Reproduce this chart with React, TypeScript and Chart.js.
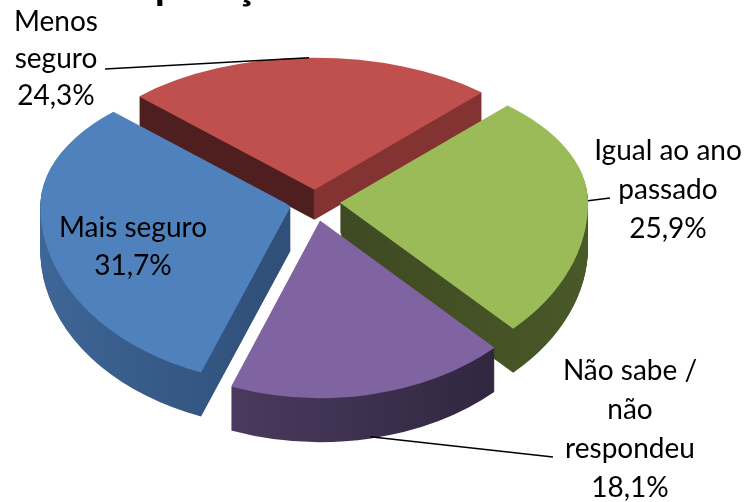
import { useEffect, useRef } from "react";
import { Chart, registerables } from "chart.js";

Chart.register(...registerables);

// ---- data ----
const categories = ["Menos seguro", "Igual ao ano passado", "Não sabe / não respondeu", "Mais seguro"];
const percentages = [24.3, 25.9, 18.1, 31.7];
const valueLabels = ["24,3%", "25,9%", "18,1%", "31,7%"];
const nameLines = [["Menos", "seguro"], ["Igual ao ano", "passado"], ["Não sabe /", "não", "respondeu"], ["Mais seguro"]];
const titleText = "Comparação";

// ---- styles ----
const topColors = ["#C0504D", "#9BBB59", "#8064A2", "#4F81BD"];
// side shading: [left colour, right colour, sharp split at the slice vertex?]
const sideShades: [string, string, boolean][] = [
  ["#4F1E1E", "#843333", true],
  ["#3F4B22", "#4A5A28", false],
  ["#4A3A5E", "#30263F", false],
  ["#3F6899", "#30507A", false],
];
const FONT = '"Lato", "Open Sans", sans-serif';
const LABEL_SIZE = 28;

const TILT_BACK = 0.532;
const TILT_FRONT = 0.71;
const DEPTH_BACK = 30;
const DEPTH_FRONT = 44;

// label layout: centre x, first baseline, line gap, leader end, leader from bottom of side
const labelLayout = [
  { x: 56, y: 31, gap: 37, leader: [105, 69], bottom: false },
  { x: 668, y: 160, gap: 39, leader: [610, 198], bottom: false },
  { x: 630, y: 380, gap: 39, leader: [553, 457], bottom: true },
  { x: 133, y: 237, gap: 38, leader: null as null | number[], bottom: false },
];

function withHalf(ctx: CanvasRenderingContext2D, cy: number, upper: boolean, shift: number, w: number, h: number, fn: () => void) {
  ctx.save();
  ctx.beginPath();
  if (upper) ctx.rect(0, -20, w, cy + shift + 21);
  else ctx.rect(0, cy + shift, w, h);
  ctx.clip();
  ctx.translate(0, cy + shift);
  ctx.scale(1, upper ? TILT_BACK : TILT_FRONT);
  ctx.translate(0, -cy);
  fn();
  ctx.restore();
}

function drawArcWith(ctx: CanvasRenderingContext2D, el: any, color: any) {
  const orig = el.options;
  el.options = Object.assign({}, orig, { backgroundColor: color, borderColor: color, borderWidth: 0 });
  el.draw(ctx);
  el.options = orig;
}

function sideFill(ctx: CanvasRenderingContext2D, el: any, i: number) {
  const [c1, c2, sharp] = sideShades[i];
  const mid = (el.startAngle + el.endAngle) / 2;
  const off = (el.options.offset || 0) / 4;
  const vx = el.x + Math.cos(mid) * off;
  let x1: number, x2: number;
  if (sharp) {
    x1 = vx - 1;
    x2 = vx + 1;
  } else {
    const r = el.outerRadius;
    const xs = [vx];
    for (let a = el.startAngle; a <= el.endAngle; a += 0.05) xs.push(vx + Math.cos(a) * r);
    xs.push(vx + Math.cos(el.endAngle) * r);
    x1 = Math.min(...xs);
    x2 = Math.max(...xs);
  }
  const g = ctx.createLinearGradient(x1, 0, x2, 0);
  g.addColorStop(0, c1);
  g.addColorStop(1, c2);
  return g;
}

const pseudo3d = {
  id: "pseudo3d",
  beforeDatasetsDraw(chart: any) {
    const meta = chart.getDatasetMeta(0);
    const arcs = meta.data as any[];
    if (!arcs.length) return;
    const ctx = chart.ctx as CanvasRenderingContext2D;
    const cy = arcs[0].y;
    const w = chart.width;
    const h = chart.height;
    const fills = arcs.map((el, i) => sideFill(ctx, el, i));
    for (let s = DEPTH_FRONT; s >= 1; s--) {
      arcs.forEach((el, i) => {
        if (s <= DEPTH_BACK) withHalf(ctx, cy, true, s, w, h, () => drawArcWith(ctx, el, fills[i]));
        withHalf(ctx, cy, false, s, w, h, () => drawArcWith(ctx, el, fills[i]));
      });
    }
    arcs.forEach((el) => {
      withHalf(ctx, cy, true, 0, w, h, () => el.draw(ctx));
      withHalf(ctx, cy, false, 0, w, h, () => el.draw(ctx));
    });
    return false;
  },
  afterDraw(chart: any) {
    const meta = chart.getDatasetMeta(0);
    const arcs = meta.data as any[];
    if (!arcs.length) return;
    const ctx = chart.ctx as CanvasRenderingContext2D;
    const cx = arcs[0].x;
    const cy = arcs[0].y;

    // leader lines
    ctx.save();
    ctx.strokeStyle = "#000";
    ctx.lineWidth = 1.6;
    arcs.forEach((el, i) => {
      const lay = labelLayout[i];
      if (!lay.leader) return;
      const mid = (el.startAngle + el.endAngle) / 2;
      const off = (el.options.offset || 0) / 4;
      const px = cx + Math.cos(mid) * (off + el.outerRadius);
      const pyc = cy + Math.sin(mid) * (off + el.outerRadius);
      let py = cy + (pyc - cy) * (pyc < cy ? TILT_BACK : TILT_FRONT);
      if (lay.bottom) py += pyc < cy ? DEPTH_BACK : DEPTH_FRONT;
      ctx.beginPath();
      ctx.moveTo(lay.leader[0], lay.leader[1]);
      ctx.lineTo(px, py);
      ctx.stroke();
    });
    ctx.restore();

    // labels
    ctx.save();
    ctx.fillStyle = "#000";
    ctx.textAlign = "center";
    ctx.textBaseline = "alphabetic";
    ctx.font = `${LABEL_SIZE}px ${FONT}`;
    arcs.forEach((_el, i) => {
      const lay = labelLayout[i];
      const lines = [...nameLines[i], valueLabels[i]];
      lines.forEach((t, j) => ctx.fillText(t, lay.x, lay.y + j * lay.gap));
    });
    ctx.restore();

    // title (mostly above the visible area)
    ctx.save();
    ctx.font = `bold 100px ${FONT}`;
    const wCom = ctx.measureText("Com").width;
    const wCompara = ctx.measureText("Compara").width;
    const wC = ctx.measureText("ç").width;
    const span100 = wCompara + wC / 2 - wCom - 8;
    const size = (100 * 87) / span100;
    const x0 = 158 - ((wCom + 8) * size) / 100;
    ctx.font = `bold ${size.toFixed(1)}px ${FONT}`;
    ctx.fillStyle = "#000";
    ctx.textAlign = "left";
    ctx.textBaseline = "alphabetic";
    ctx.fillText(titleText, x0, -1);
    ctx.restore();
  },
};

export default function App() {
  const ref = useRef<HTMLCanvasElement | null>(null);
  useEffect(() => {
    if (!ref.current) return;
    const chart = new Chart(ref.current, {
      type: "pie",
      data: {
        labels: categories,
        datasets: [
          {
            data: percentages,
            backgroundColor: topColors,
            borderWidth: 0,
            offset: 100,
          },
        ],
      },
      options: {
        responsive: false,
        animation: false,
        rotation: -45,
        radius: 248,
        events: [],
        layout: { padding: { left: 0, top: 0, right: 120, bottom: 96 } },
        plugins: { legend: { display: false }, tooltip: { enabled: false }, title: { display: false } },
      } as any,
      plugins: [pseudo3d as any],
    });
    return () => chart.destroy();
  }, []);
  return (
    <div style={{ position: "absolute", left: 0, top: 0, width: 750, height: 502, background: "#fff" }}>
      <canvas ref={ref} width={750} height={502} style={{ display: "block" }} />
    </div>
  );
}
